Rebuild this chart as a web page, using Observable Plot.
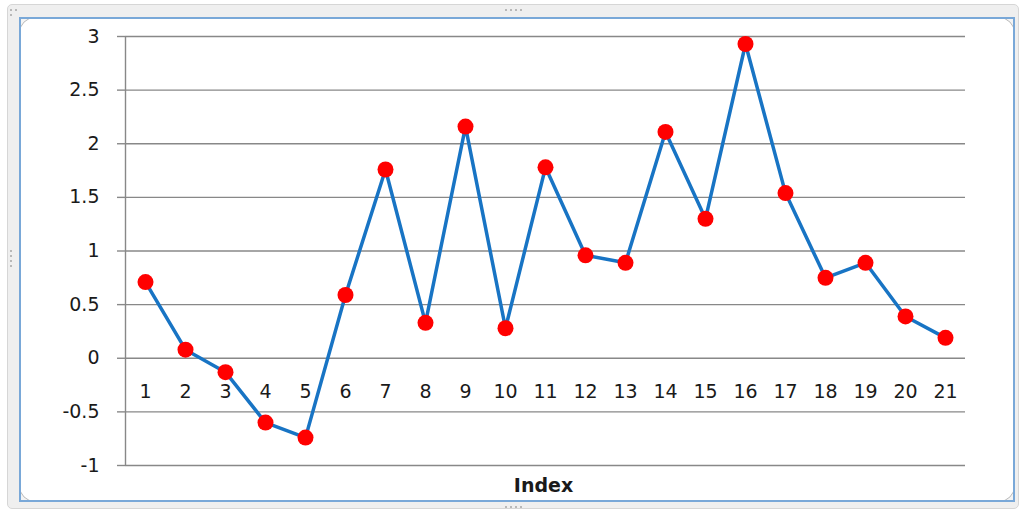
<!DOCTYPE html>
<html>
<head>
<meta charset="utf-8">
<script src="https://cdn.jsdelivr.net/npm/d3@7"></script>
<script src="https://cdn.jsdelivr.net/npm/@observablehq/plot@0.6"></script>
<style>
  html, body { margin: 0; padding: 0; background: #ffffff; }
  #wrap { position: relative; width: 1019px; height: 513px; overflow: hidden; }
  #outer { position: absolute; left: 7px; top: 4px; width: 1012px; height: 505px; box-sizing: border-box;
           background: #efefef; border: 1px solid #d6d6d6; border-radius: 5px; }
  #sq { position: absolute; left: 19px; top: 17px; width: 996px; height: 485px; box-sizing: border-box;
        background: #f4f4f4; }
  #curl { position: absolute; left: 19px; top: 17px; width: 996px; height: 485px; box-sizing: border-box;
          background: #ffffff; border: 1px solid #b9b9b9; border-radius: 16px; }
  #inner { position: absolute; left: 19px; top: 17px; width: 996px; height: 485px; box-sizing: border-box;
           border: 2px solid #79a8d8; border-radius: 0; }
  .hd { position: absolute; width: 2px; height: 2px; background: #b8b8b8; }
  #chart { position: absolute; left: 0; top: 0; }
</style>
</head>
<body>
<div id="wrap">
  <div id="outer"></div>
  <div id="sq"></div>
  <div id="curl"></div>
  <div id="inner"></div>
  <div class="hd" style="left:505px;top:9px"></div>
  <div class="hd" style="left:510px;top:9px"></div>
  <div class="hd" style="left:515px;top:9px"></div>
  <div class="hd" style="left:520px;top:9px"></div>
  <div class="hd" style="left:505px;top:506px"></div>
  <div class="hd" style="left:510px;top:506px"></div>
  <div class="hd" style="left:515px;top:506px"></div>
  <div class="hd" style="left:520px;top:506px"></div>
  <div class="hd" style="left:10px;top:250px"></div>
  <div class="hd" style="left:10px;top:255px"></div>
  <div class="hd" style="left:10px;top:260px"></div>
  <div class="hd" style="left:10px;top:265px"></div>
  <div class="hd" style="left:10px;top:9px"></div>
  <div class="hd" style="left:15px;top:9px"></div>
  <div class="hd" style="left:10px;top:14px"></div>
  <div id="chart"></div>
</div>
<script>
const categories = [1, 2, 3, 4, 5, 6, 7, 8, 9, 10, 11, 12, 13, 14, 15, 16, 17, 18, 19, 20, 21];
const values = [0.71, 0.08, -0.13, -0.60, -0.74, 0.59, 1.76, 0.33, 2.16, 0.28, 1.78,
                0.96, 0.89, 2.11, 1.30, 2.93, 1.54, 0.75, 0.89, 0.39, 0.19];
const yTicks = [-1, -0.5, 0, 0.5, 1, 1.5, 2, 2.5, 3];
const xTitle = "Index";

const data = categories.map((c, i) => ({ index: c, value: values[i] }));

const gridColor = "#888888";
const font = "DejaVu Sans";

const chart = Plot.plot({
  width: 1019,
  height: 513,
  marginLeft: 125,
  marginRight: 54,
  marginTop: 36,
  marginBottom: 48,
  style: { background: "transparent", fontFamily: font, fontSize: "19px", color: "#1a1a1a" },
  x: { type: "point", domain: categories, padding: 0.5, axis: null },
  y: { domain: [-1, 3], axis: null },
  marks: [
    Plot.gridY(yTicks, { stroke: gridColor, strokeOpacity: 1, strokeWidth: 1.4 }),
    Plot.axisY(yTicks, {
      tickSize: 8, tickPadding: 18, stroke: gridColor, strokeWidth: 1.4,
      tickFormat: d => String(d), fontSize: 19, fontFamily: font, fill: "#1a1a1a", label: null
    }),
    Plot.ruleX([categories[0]], { y1: -1, y2: 3, dx: -20, stroke: gridColor, strokeWidth: 1.4 }),
    Plot.text(categories, {
      x: d => d, y: () => 0, dy: 34, text: d => String(d),
      fontSize: 19, fontFamily: font, fill: "#1a1a1a"
    }),
    Plot.line(data, { x: "index", y: "value", stroke: "#1874c4", strokeWidth: 3.5 }),
    Plot.dot(data, { x: "index", y: "value", r: 8, fill: "#ff0000", stroke: "none" }),
    Plot.text([xTitle], {
      frameAnchor: "bottom", lineAnchor: "middle", dy: 20, dx: -2,
      fontWeight: "bold", fontSize: 19, fontFamily: font, fill: "#1a1a1a"
    })
  ]
});

document.getElementById("chart").appendChild(chart);
</script>
</body>
</html>
